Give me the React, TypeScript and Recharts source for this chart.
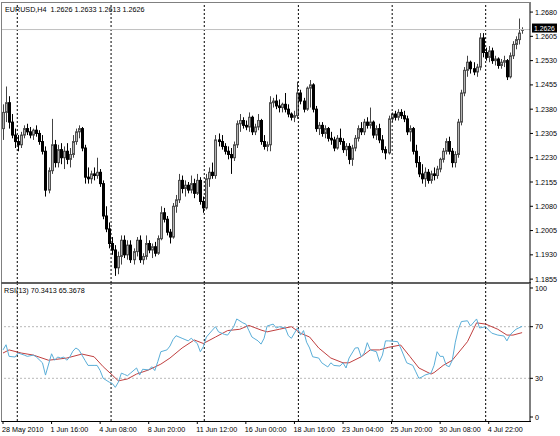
import React from 'react';
import { ComposedChart, Bar, XAxis, YAxis, ReferenceLine, LineChart, Line } from 'recharts';

// EURUSD H4 candles, one entry per bar
const opens = [
  1.2320, 1.2370, 1.2400, 1.2340, 1.2300, 1.2280, 1.2270, 1.2300, 1.2320, 1.2310,
  1.2300, 1.2315, 1.2305, 1.2280, 1.2250, 1.2130, 1.2190, 1.2270, 1.2215, 1.2255,
  1.2230, 1.2250, 1.2225, 1.2240, 1.2280, 1.2310, 1.2320, 1.2260, 1.2170, 1.2165,
  1.2180, 1.2175, 1.2185, 1.2150, 1.2050, 1.2010, 1.1965, 1.1945, 1.1890, 1.1925,
  1.1975, 1.1930, 1.1960, 1.1915, 1.1940, 1.1975, 1.1915, 1.1925, 1.1965, 1.1945,
  1.1955, 1.1935, 1.1980, 1.2060, 1.2040, 1.2000, 1.1985, 1.2080, 1.2100, 1.2160,
  1.2135, 1.2145, 1.2130, 1.2150, 1.2120, 1.2160, 1.2095, 1.2075, 1.2165, 1.2185,
  1.2175, 1.2285, 1.2280, 1.2265, 1.2250, 1.2240, 1.2230, 1.2270, 1.2335, 1.2345,
  1.2330, 1.2325, 1.2355, 1.2310, 1.2325, 1.2345, 1.2280, 1.2265, 1.2270, 1.2400,
  1.2405, 1.2390, 1.2385, 1.2395, 1.2380, 1.2365, 1.2355, 1.2360, 1.2430, 1.2405,
  1.2380, 1.2445, 1.2455, 1.2380, 1.2320, 1.2330, 1.2305, 1.2320, 1.2290, 1.2285,
  1.2260, 1.2290, 1.2280, 1.2255, 1.2265, 1.2225, 1.2260, 1.2290, 1.2320, 1.2310,
  1.2340, 1.2330, 1.2340, 1.2300, 1.2320, 1.2285, 1.2255, 1.2245, 1.2350, 1.2365,
  1.2355, 1.2370, 1.2360, 1.2350, 1.2310, 1.2320, 1.2250, 1.2215, 1.2180, 1.2165,
  1.2185, 1.2160, 1.2180, 1.2175, 1.2195, 1.2225, 1.2250, 1.2280, 1.2250, 1.2215,
  1.2240, 1.2340, 1.2430, 1.2500, 1.2525, 1.2505, 1.2495, 1.2510, 1.2600, 1.2555,
  1.2540, 1.2560, 1.2530, 1.2535, 1.2515, 1.2525, 1.2530, 1.2480, 1.2545, 1.2580,
  1.2595, 1.2626,
];
const highs = [
  1.2395, 1.2450, 1.2420, 1.2365, 1.2320, 1.2300, 1.2310, 1.2330, 1.2335, 1.2325,
  1.2320, 1.2330, 1.2315, 1.2300, 1.2265, 1.2200, 1.2350, 1.2285, 1.2270, 1.2275,
  1.2265, 1.2275, 1.2260, 1.2300, 1.2320, 1.2330, 1.2325, 1.2270, 1.2200, 1.2190,
  1.2200, 1.2230, 1.2195, 1.2160, 1.2080, 1.2030, 1.1985, 1.1960, 1.1940, 1.1990,
  1.1990, 1.1975, 1.1975, 1.1950, 1.1985, 1.1990, 1.1935, 1.1990, 1.1975, 1.1965,
  1.1970, 1.1990, 1.2080, 1.2075, 1.2050, 1.2010, 1.2090, 1.2115, 1.2180, 1.2175,
  1.2160, 1.2155, 1.2175, 1.2165, 1.2180, 1.2170, 1.2110, 1.2180, 1.2200, 1.2215,
  1.2300, 1.2305, 1.2300, 1.2275, 1.2265, 1.2260, 1.2280, 1.2345, 1.2365, 1.2355,
  1.2345, 1.2370, 1.2360, 1.2335, 1.2365, 1.2350, 1.2300, 1.2280, 1.2420, 1.2415,
  1.2425, 1.2410, 1.2400, 1.2430, 1.2395, 1.2370, 1.2375, 1.2465, 1.2440, 1.2415,
  1.2450, 1.2470, 1.2460, 1.2390, 1.2340, 1.2340, 1.2330, 1.2325, 1.2310, 1.2295,
  1.2300, 1.2320, 1.2290, 1.2275, 1.2275, 1.2270, 1.2300, 1.2330, 1.2340, 1.2350,
  1.2355, 1.2385, 1.2345, 1.2330, 1.2335, 1.2300, 1.2265, 1.2360, 1.2370, 1.2375,
  1.2380, 1.2380, 1.2375, 1.2360, 1.2330, 1.2325, 1.2270, 1.2235, 1.2210, 1.2200,
  1.2195, 1.2190, 1.2200, 1.2205, 1.2230, 1.2260, 1.2290, 1.2295, 1.2260, 1.2250,
  1.2350, 1.2440, 1.2510, 1.2545, 1.2530, 1.2525, 1.2520, 1.2615, 1.2615, 1.2570,
  1.2575, 1.2570, 1.2545, 1.2540, 1.2535, 1.2545, 1.2535, 1.2555, 1.2590, 1.2605,
  1.2660, 1.2633,
];
const lows = [
  1.2285, 1.2340, 1.2320, 1.2290, 1.2260, 1.2250, 1.2260, 1.2290, 1.2300, 1.2290,
  1.2285, 1.2295, 1.2270, 1.2240, 1.2110, 1.2120, 1.2180, 1.2200, 1.2200, 1.2210,
  1.2195, 1.2210, 1.2200, 1.2230, 1.2270, 1.2290, 1.2250, 1.2150, 1.2150, 1.2150,
  1.2160, 1.2165, 1.2140, 1.2040, 1.2000, 1.1950, 1.1930, 1.1865, 1.1870, 1.1900,
  1.1920, 1.1915, 1.1905, 1.1900, 1.1925, 1.1905, 1.1900, 1.1915, 1.1935, 1.1920,
  1.1925, 1.1930, 1.1975, 1.2030, 1.1990, 1.1965, 1.1980, 1.2060, 1.2090, 1.2120,
  1.2110, 1.2120, 1.2120, 1.2105, 1.2115, 1.2085, 1.2060, 1.2070, 1.2140, 1.2165,
  1.2165, 1.2265, 1.2255, 1.2240, 1.2225, 1.2180, 1.2220, 1.2260, 1.2310, 1.2320,
  1.2315, 1.2310, 1.2300, 1.2300, 1.2315, 1.2270, 1.2255, 1.2250, 1.2250, 1.2385,
  1.2380, 1.2370, 1.2370, 1.2370, 1.2355, 1.2345, 1.2340, 1.2350, 1.2395, 1.2370,
  1.2375, 1.2385, 1.2370, 1.2310, 1.2300, 1.2295, 1.2290, 1.2280, 1.2270, 1.2250,
  1.2255, 1.2270, 1.2245, 1.2235, 1.2210, 1.2205, 1.2250, 1.2280, 1.2300, 1.2300,
  1.2320, 1.2320, 1.2290, 1.2285, 1.2275, 1.2245, 1.2225, 1.2240, 1.2340, 1.2345,
  1.2345, 1.2350, 1.2340, 1.2300, 1.2280, 1.2240, 1.2200, 1.2170, 1.2150, 1.2140,
  1.2150, 1.2150, 1.2160, 1.2165, 1.2185, 1.2215, 1.2240, 1.2240, 1.2200, 1.2200,
  1.2230, 1.2330, 1.2420, 1.2480, 1.2490, 1.2485, 1.2480, 1.2500, 1.2540, 1.2530,
  1.2525, 1.2520, 1.2515, 1.2505, 1.2505, 1.2510, 1.2470, 1.2475, 1.2535, 1.2565,
  1.2580, 1.2613,
];
const closes = [
  1.2370, 1.2400, 1.2340, 1.2300, 1.2280, 1.2270, 1.2300, 1.2320, 1.2310, 1.2300,
  1.2315, 1.2305, 1.2280, 1.2250, 1.2130, 1.2190, 1.2270, 1.2215, 1.2255, 1.2230,
  1.2250, 1.2225, 1.2240, 1.2280, 1.2310, 1.2320, 1.2260, 1.2170, 1.2165, 1.2180,
  1.2175, 1.2185, 1.2150, 1.2050, 1.2010, 1.1965, 1.1945, 1.1890, 1.1925, 1.1975,
  1.1930, 1.1960, 1.1915, 1.1940, 1.1975, 1.1915, 1.1925, 1.1965, 1.1945, 1.1955,
  1.1935, 1.1980, 1.2060, 1.2040, 1.2000, 1.1985, 1.2080, 1.2100, 1.2160, 1.2135,
  1.2145, 1.2130, 1.2150, 1.2120, 1.2160, 1.2095, 1.2075, 1.2165, 1.2185, 1.2175,
  1.2285, 1.2280, 1.2265, 1.2250, 1.2240, 1.2230, 1.2270, 1.2335, 1.2345, 1.2330,
  1.2325, 1.2355, 1.2310, 1.2325, 1.2345, 1.2280, 1.2265, 1.2270, 1.2400, 1.2405,
  1.2390, 1.2385, 1.2395, 1.2380, 1.2365, 1.2355, 1.2360, 1.2430, 1.2405, 1.2380,
  1.2445, 1.2455, 1.2380, 1.2320, 1.2330, 1.2305, 1.2320, 1.2290, 1.2285, 1.2260,
  1.2290, 1.2280, 1.2255, 1.2265, 1.2225, 1.2260, 1.2290, 1.2320, 1.2310, 1.2340,
  1.2330, 1.2340, 1.2300, 1.2320, 1.2285, 1.2255, 1.2245, 1.2350, 1.2365, 1.2355,
  1.2370, 1.2360, 1.2350, 1.2310, 1.2320, 1.2250, 1.2215, 1.2180, 1.2165, 1.2185,
  1.2160, 1.2180, 1.2175, 1.2195, 1.2225, 1.2250, 1.2280, 1.2250, 1.2215, 1.2240,
  1.2340, 1.2430, 1.2500, 1.2525, 1.2505, 1.2495, 1.2510, 1.2600, 1.2555, 1.2540,
  1.2560, 1.2530, 1.2535, 1.2515, 1.2525, 1.2530, 1.2480, 1.2545, 1.2580, 1.2595,
  1.2615, 1.2626,
];

// RSI(13), read at bar positions
const rsiBars = [
  0, 1, 2, 4, 5, 7, 8, 10, 11, 13, 14, 16, 17, 18, 19, 20, 21, 22, 23, 24,
  25, 27, 28, 30, 31, 32, 33, 35, 36, 37, 38, 39, 40, 41, 42, 44, 45, 46, 48, 49,
  50, 51, 52, 54, 55, 56, 57, 59, 61, 62, 64, 65, 66, 67, 69, 70, 71, 73, 74, 76,
  77, 79, 80, 81, 82, 84, 85, 86, 87, 89, 90, 91, 93, 94, 95, 97, 98, 99, 100, 101,
  102, 104, 105, 107, 108, 109, 111, 112, 113, 114, 116, 117, 118, 119, 120, 121, 123, 124, 125, 126,
  127, 130, 131, 133, 135, 136, 137, 138, 139, 141, 142, 143, 144, 145, 146, 147, 148, 149, 150, 151,
  153, 154, 156, 157, 159, 160, 161, 163, 165, 166, 167, 168, 169, 171,
];
const rsiValues = [
  52, 56, 47, 46.5, 49.6, 48, 47, 48, 46.5, 42, 32.5, 49, 44, 46.5, 45.7, 46.5, 44, 46.5, 51, 53.5,
  52, 44, 40, 40, 40, 36, 30, 27, 26, 23, 27, 34, 33, 32, 34, 38, 32.5, 37, 36.5, 39,
  36, 43, 50.6, 52, 55, 60, 63, 61, 59, 61, 57, 50.6, 54.5, 62, 67.4, 70, 66, 64, 63.5, 70,
  76, 73, 72, 67, 62, 59, 56.5, 61, 70.5, 72, 69, 70, 69, 63, 61, 69, 63.5, 67, 58, 53.5,
  46.7, 45.7, 42, 38.8, 42, 40, 39.5, 42, 38, 45.7, 53.5, 53.7, 46.7, 49.6, 57.6, 52, 50.6, 43, 48, 59,
  59, 58.4, 53.5, 42, 40, 35, 30, 31, 32.5, 34, 40, 50.6, 47, 47, 40, 39, 44, 58, 68, 74,
  74.6, 70.5, 76, 69, 70, 67.4, 65, 63.5, 62.8, 59, 63.5, 66, 68, 70.3,
];
// signal line (moving average of RSI)
const maBars = [
  0, 2, 6, 10, 15, 21, 26, 30, 33, 36, 38, 41, 44, 48, 52, 55, 59, 63, 66, 70,
  74, 78, 81, 85, 87, 91, 95, 98, 101, 104, 108, 112, 114, 118, 121, 124, 127, 131, 134, 137,
  141, 142, 145, 148, 153, 156, 159, 163, 166, 168, 171,
];
const maValues = [
  49.6, 52, 49.6, 48, 44, 45.7, 48.8, 46.7, 39, 32.5, 28, 29.5, 33.3, 36.5, 41, 45.7, 53.5, 59.7, 57, 62,
  67, 68, 71, 67.4, 66, 68, 70, 65, 62, 53.5, 45.7, 42, 42, 46.7, 52, 52, 54, 55.8, 47, 38,
  33.3, 34.4, 40, 44, 58.4, 73, 72, 68, 63.5, 63.5, 65.4,
];
const rsiLast = [70.3413, 65.3678];

const priceTicks = [1.268, 1.2605, 1.253, 1.2455, 1.238, 1.2305, 1.223, 1.2155, 1.208, 1.2005, 1.193, 1.1855];
const rsiTicks = [100, 70, 30, 0];
const timeLabels = [
  '28 May 2010', '1 Jun 16:00', '4 Jun 08:00', '8 Jun 20:00', '11 Jun 12:00', '16 Jun 00:00',
  '18 Jun 16:00', '23 Jun 04:00', '25 Jun 20:00', '30 Jun 08:00', '4 Jul 22:00',
];
const timeLabelBars = [0, 16, 32, 48, 64, 80, 96, 112, 128, 144, 160];
const gridBars = [4.7, 35.6, 66.3, 97.3, 128.2, 159.0];

const FONT = '"Liberation Sans", Arial, sans-serif';
const FS = 7.2;
const X_DOMAIN: [number, number] = [-0.33, 173.6];

const candles = opens.map((o, i) => ({
  i, o, h: highs[i], l: lows[i], c: closes[i], range: [lows[i], highs[i]],
}));
const rsiPts = rsiBars.map((b, k) => ({ b, v: rsiValues[k] }));
const maPts = maBars.map((b, k) => ({ b, v: maValues[k] }));
const last = candles[candles.length - 1];

function Candle(props: any) {
  const { x, y, width, height, payload } = props;
  const { o, h, l, c } = payload;
  const cx = Math.round(x + width / 2) + 0.5;
  const span = h - l || 1e-9;
  const py = (p: number) => y + ((h - p) / span) * height;
  const top = py(Math.max(o, c));
  const bot = py(Math.min(o, c));
  const up = c >= o;
  return (
    <g>
      <line x1={cx} x2={cx} y1={y} y2={y + height} stroke={up ? '#444' : '#000'} strokeWidth={1} />
      <rect x={cx - 1} y={top} width={2} height={Math.max(bot - top, 0.8)}
        fill={up ? '#b4b4b4' : '#000'} stroke={up ? '#505050' : '#000'} strokeWidth={1} />
    </g>
  );
}

function PriceTag(props: any) {
  const { viewBox } = props;
  if (!viewBox) return null;
  const x = viewBox.x + viewBox.width + 2;
  const y = viewBox.y;
  return (
    <g>
      <rect x={x} y={y - 6} width={25} height={9} fill="#000" />
      <text x={x + 2} y={y + 1.5} fill="#fff" fontSize={6.8} fontFamily={FONT}>{last.c.toFixed(4)}</text>
    </g>
  );
}

function TimeTick(props: any) {
  const { x, y, payload } = props;
  const k = timeLabelBars.indexOf(payload.value);
  return (
    <g>
      <line x1={x} x2={x} y1={y} y2={y + 3} stroke="#000" />
      <text x={x - 1} y={y + 11} fontSize={FS} fontFamily={FONT} fill="#000">{timeLabels[k]}</text>
    </g>
  );
}

const tickStyle = { fontSize: FS, fontFamily: FONT, fill: '#000' };

export default function App() {
  return (
    <div style={{ position: 'absolute', left: 0, top: 0, width: 560, height: 436, background: '#fff', overflow: 'hidden' }}>
      <div style={{ position: 'absolute', left: 1, top: 2, width: 529, height: 280, borderLeft: '1px solid #808080', borderTop: '1px solid #808080' }} />
      <div style={{ position: 'absolute', left: 1, top: 282, width: 530, height: 2, background: '#606060' }} />
      <div style={{ position: 'absolute', left: 1, top: 284, width: 529, height: 137, borderLeft: '1px solid #808080', borderBottom: '1px solid #000' }} />

      <div style={{ position: 'absolute', left: 0, top: 0 }}>
        <ComposedChart width={560} height={286} data={candles} margin={{ top: 3, right: 0, bottom: 3, left: 2 }}>
          <XAxis type="number" dataKey="i" domain={X_DOMAIN} allowDataOverflow hide />
          <YAxis orientation="right" width={30} domain={[1.1843, 1.2708]} allowDataOverflow
            ticks={priceTicks} tickFormatter={(v: number) => v.toFixed(4)} interval={0}
            tick={tickStyle} tickSize={3} tickMargin={2}
            axisLine={{ stroke: '#000' }} tickLine={{ stroke: '#000' }} />
          {gridBars.map((g) => (
            <ReferenceLine key={g} x={g} stroke="#000" strokeDasharray="2 2" />
          ))}
          <ReferenceLine y={last.c} stroke="#c0c0c0" label={<PriceTag />} />
          <Bar dataKey="range" barSize={3} shape={<Candle />} isAnimationActive={false} />
        </ComposedChart>
      </div>

      <div style={{ position: 'absolute', left: 0, top: 283 }}>
        <LineChart width={560} height={153} margin={{ top: 1, right: 0, bottom: 0, left: 2 }}>
          <XAxis type="number" dataKey="b" domain={X_DOMAIN} allowDataOverflow ticks={timeLabelBars}
            interval={0} height={15} tick={<TimeTick />} tickSize={0} tickMargin={0} tickLine={false}
            axisLine={false} />
          <YAxis orientation="right" width={30} domain={[-3.1, 103.1]} allowDataOverflow ticks={rsiTicks}
            interval={0} tick={tickStyle} tickSize={3} tickMargin={2}
            axisLine={{ stroke: '#000' }} tickLine={{ stroke: '#000' }} />
          <ReferenceLine y={70} stroke="#b8b8b8" strokeDasharray="2 2" />
          <ReferenceLine y={30} stroke="#b8b8b8" strokeDasharray="2 2" />
          {gridBars.map((g) => (
            <ReferenceLine key={g} x={g} stroke="#000" strokeDasharray="2 2" />
          ))}
          <Line data={maPts} dataKey="v" type="linear" stroke="#c04040" strokeWidth={1} dot={false} isAnimationActive={false} />
          <Line data={rsiPts} dataKey="v" type="linear" stroke="#5aaed8" strokeWidth={1} dot={false} isAnimationActive={false} />
        </LineChart>
      </div>

      <div style={{ position: 'absolute', left: 5, top: 5, fontFamily: FONT, fontSize: FS, lineHeight: '10px', color: '#000', whiteSpace: 'pre' }}>
        {`EURUSD,H4  ${last.o.toFixed(4)} ${last.h.toFixed(4)} ${last.l.toFixed(4)} ${last.c.toFixed(4)}`}
      </div>
      <div style={{ position: 'absolute', left: 4, top: 286, fontFamily: FONT, fontSize: FS, lineHeight: '10px', color: '#000', whiteSpace: 'pre' }}>
        {`RSI(13) ${rsiLast[0].toFixed(4)} ${rsiLast[1].toFixed(4)}`}
      </div>
    </div>
  );
}
